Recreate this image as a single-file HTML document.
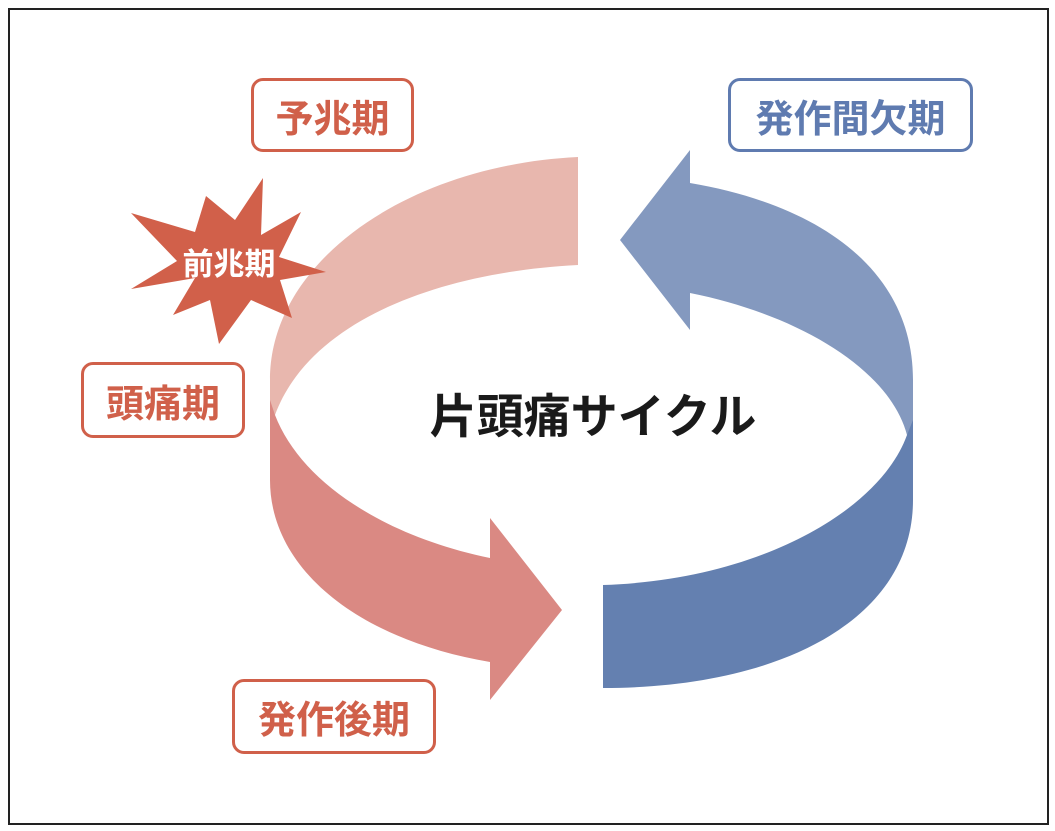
<!DOCTYPE html>
<html><head><meta charset="utf-8"><style>
html,body{margin:0;padding:0;background:#fff;}
body{width:1055px;height:831px;position:relative;overflow:hidden;font-family:"Liberation Sans","Noto Sans CJK JP",sans-serif;}
.frame{position:absolute;left:8px;top:8px;width:1037px;height:813px;border:2px solid #222;box-sizing:content-box;}
.lab{position:absolute;box-sizing:border-box;border:3px solid #d0604a;border-radius:12px;background:#fff;color:#d0604a;font-weight:bold;font-size:38px;display:flex;align-items:center;justify-content:center;}
.blue{border-color:#5f7bb0;color:#5f7bb0;}
</style></head><body>
<div class="frame"></div>
<svg width="1055" height="831" style="position:absolute;left:0;top:0">
 <path d="M913,440 L913,380 C913,270 820,205 690,183 L690,150 L620,240 L690,330 L690,293 C800,315 890,370 907,435 Z" fill="#8499bf"/>
 <path d="M603,585 C760,580 880,510 907,435 L913,420 L913,500 C913,620 780,688 603,688 Z" fill="#6480b0"/>
 <path d="M578,157 C410,165 270,260 270,380 L270,420 L275,415 C310,320 440,272 578,265 Z" fill="#e8b7ae"/>
 <path d="M270,400 L275,415 C300,480 380,535 490,558 L490,518 L562,610 L490,700 L490,662 C360,640 270,570 270,480 Z" fill="#da8983"/>
 <polygon points="263,178 261,235 301,212 279,257 326,272 280,280 292,318 251,300 219,344 210,300 173,315 195,278 131,289 177,261 131,213 195,232 206,196 235,220" fill="#d1604a"/>
 <text x="229" y="275" font-size="31" font-weight="bold" fill="#fff" text-anchor="middle" font-family="Liberation Sans, Noto Sans CJK JP, sans-serif">前兆期</text>
 <text x="593" y="433" font-size="47" font-weight="bold" fill="#1a1a1a" text-anchor="middle" font-family="Liberation Sans, Noto Sans CJK JP, sans-serif">片頭痛サイクル</text>
</svg>
<div class="lab" style="left:251px;top:78px;width:163px;height:74px;">予兆期</div>
<div class="lab blue" style="left:728px;top:78px;width:245px;height:74px;">発作間欠期</div>
<div class="lab" style="left:81px;top:362px;width:164px;height:76px;">頭痛期</div>
<div class="lab" style="left:232px;top:679px;width:204px;height:75px;">発作後期</div>
</body></html>
